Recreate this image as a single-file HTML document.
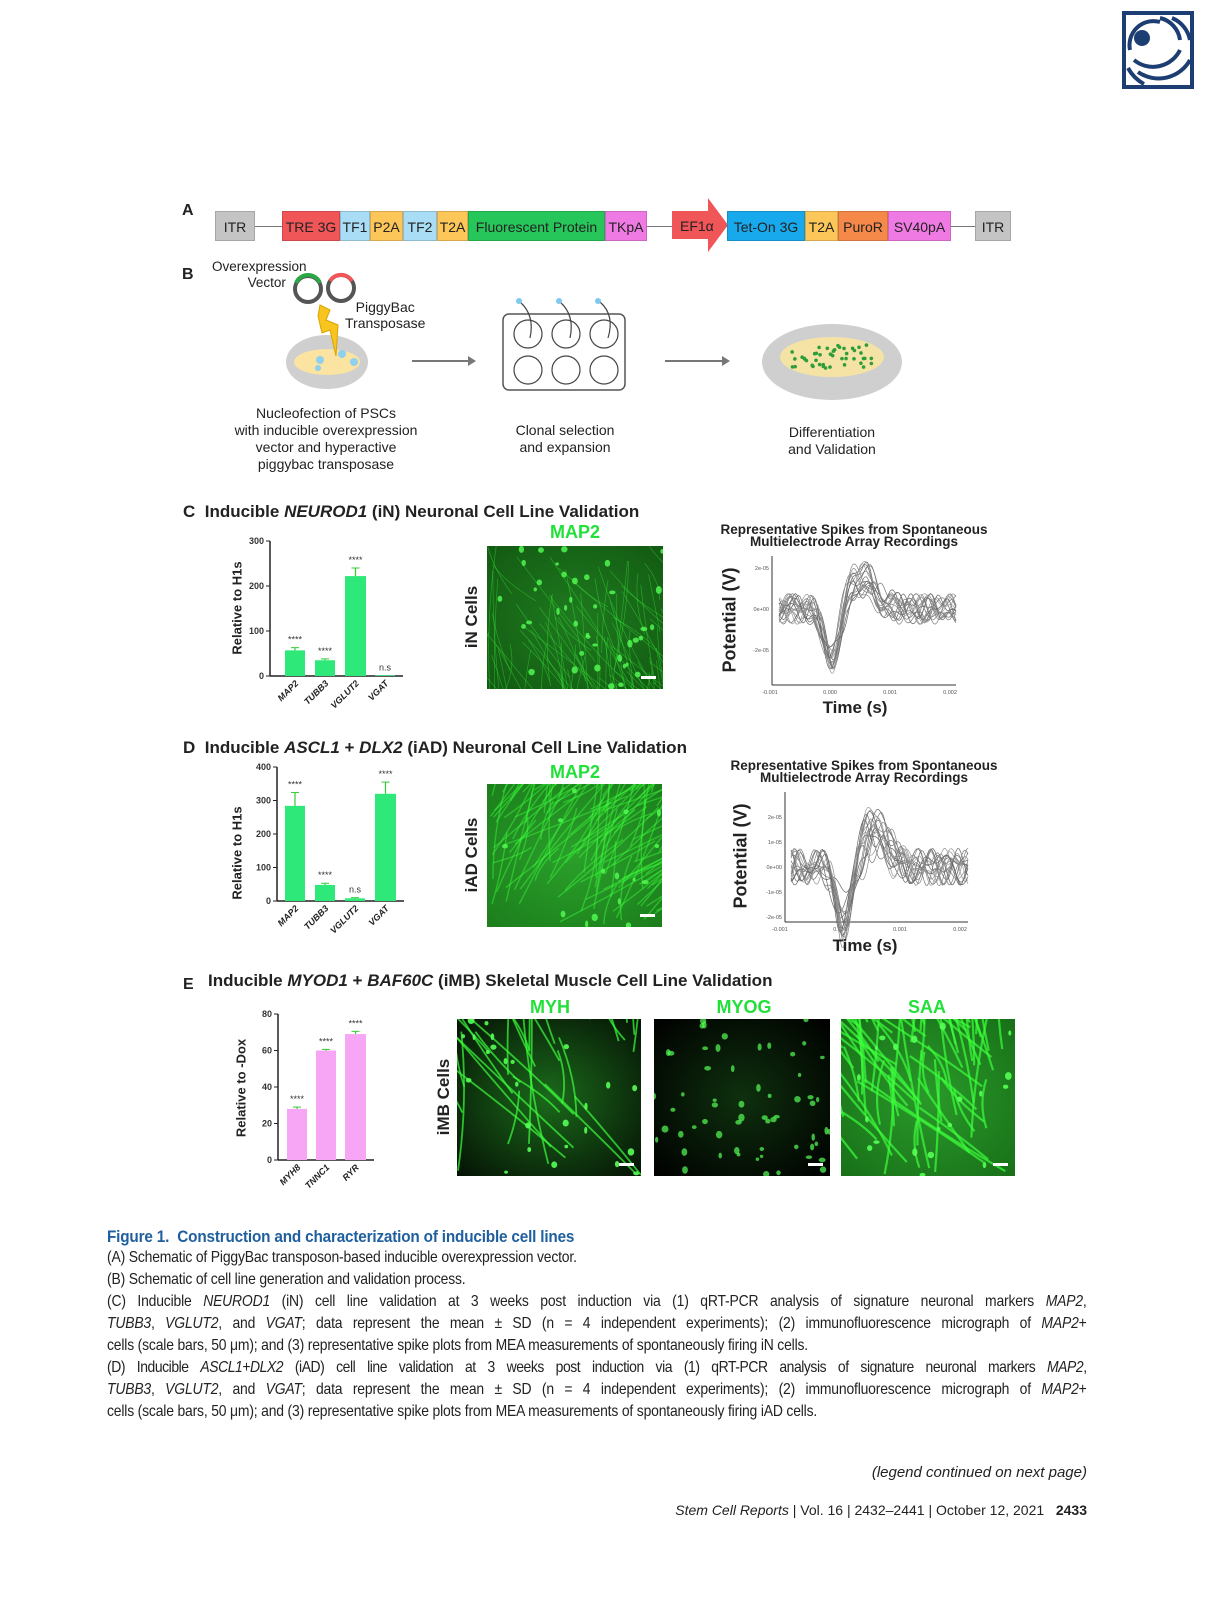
<!DOCTYPE html>
<html><head><meta charset="utf-8">
<style>
body{margin:0;background:#fff;}
#pg{position:relative;width:1232px;height:1600px;overflow:hidden;font-family:"Liberation Sans",sans-serif;color:#222;}
.a{position:absolute;white-space:nowrap;}
.seg{position:absolute;top:211px;height:30px;line-height:30px;font-size:14px;text-align:center;color:#222;border:1px solid rgba(0,0,0,.15);box-sizing:border-box;}
.lbl{font-weight:bold;font-size:17px;}
.cap{position:absolute;left:107px;width:1126px;font-size:16px;letter-spacing:-0.2px;white-space:nowrap;text-align:justify;text-align-last:justify;color:#222;transform:scaleX(0.87);transform-origin:0 0;}
.cap.l{text-align-last:left;}
.gl{position:absolute;color:#22e03a;font-weight:bold;font-size:18px;transform:translateX(-50%);}
.rot{position:absolute;transform:translate(-50%,-50%) rotate(-90deg);font-weight:bold;white-space:nowrap;}
</style></head><body><div id="pg">

<!-- logo -->
<svg class="a" style="left:1120px;top:10px" width="76" height="80" viewBox="0 0 76 80">
<rect x="4" y="3" width="68" height="74" fill="none" stroke="#1d3e73" stroke-width="4"/>
<circle cx="22" cy="28" r="8" fill="#1d3e73"/>
<g fill="none" stroke="#1d3e73" stroke-width="4">
<path d="M10 40 A24 24 0 0 1 40 12"/><path d="M14 50 A30 30 0 0 0 60 40"/>
<path d="M18 62 A36 36 0 0 0 70 50"/><path d="M40 8 A26 26 0 0 1 60 30"/><path d="M52 8 A30 30 0 0 1 70 30"/>
<path d="M24 74 A40 40 0 0 1 8 58"/></g></svg>

<!-- Panel A -->
<div class="a lbl" style="left:182px;top:202px;font-size:16px">A</div>
<div style="position:absolute;left:255px;top:226px;width:720px;height:1px;background:#777"></div>
<div class="seg" style="left:215px;width:40px;background:#c4c4c4">ITR</div>
<div class="seg" style="left:282px;width:58px;background:#f05558">TRE 3G</div>
<div class="seg" style="left:340px;width:30px;background:#a9dcf5">TF1</div>
<div class="seg" style="left:370px;width:33px;background:#fcc659">P2A</div>
<div class="seg" style="left:403px;width:34px;background:#a9dcf5">TF2</div>
<div class="seg" style="left:437px;width:31px;background:#fcc659">T2A</div>
<div class="seg" style="left:468px;width:137px;background:#27c65a">Fluorescent Protein</div>
<div class="seg" style="left:605px;width:42px;background:#f07ae3">TKpA</div>
<svg class="a" style="left:670px;top:196px" width="60" height="58"><polygon points="2,15 38,15 38,2 58,29 38,56 38,43 2,43" fill="#f05558"/></svg>
<div class="a" style="left:680px;top:218px;font-size:14px">EF1α</div>
<div class="seg" style="left:727px;width:78px;background:#18a8ec">Tet-On 3G</div>
<div class="seg" style="left:805px;width:33px;background:#fcc659">T2A</div>
<div class="seg" style="left:838px;width:50px;background:#f5894a">PuroR</div>
<div class="seg" style="left:888px;width:63px;background:#f07ae3">SV40pA</div>
<div class="seg" style="left:975px;width:36px;background:#c4c4c4">ITR</div>

<!-- Panel B -->
<div class="a lbl" style="left:182px;top:266px;font-size:16px">B</div>
<div class="a" style="left:212px;top:259px;font-size:13.5px;text-align:center;line-height:16px">Overexpression<br>&nbsp;&nbsp;&nbsp;&nbsp;Vector</div>
<div class="a" style="left:345px;top:299px;font-size:14px;text-align:center;line-height:16px">PiggyBac<br>Transposase</div>
<svg class="a" style="left:0;top:0" width="1232" height="480">
<circle cx="308" cy="289" r="13" fill="none" stroke="#555" stroke-width="4"/>
<path d="M296 283 A13 13 0 0 1 320 283" fill="none" stroke="#2aa846" stroke-width="4"/>
<circle cx="341" cy="288" r="13" fill="none" stroke="#555" stroke-width="4"/>
<path d="M330 281 A13 13 0 0 1 352 281" fill="none" stroke="#f05558" stroke-width="4"/>
<ellipse cx="327" cy="362" rx="41" ry="27" fill="#cfcfcf"/>
<ellipse cx="327" cy="362" rx="33" ry="13" fill="#fbe3a2"/>
<polygon points="320,305 330,310 326,320 338,325 336,356 330,330 322,333 318,316" fill="#f8c420" stroke="#d9a400"/>
<circle cx="320" cy="360" r="4" fill="#8fd0ef"/><circle cx="342" cy="354" r="4" fill="#8fd0ef"/><circle cx="354" cy="362" r="4" fill="#8fd0ef"/><circle cx="318" cy="368" r="3" fill="#8fd0ef"/>
<line x1="412" y1="361" x2="470" y2="361" stroke="#777" stroke-width="2"/><polygon points="476,361 468,356 468,366" fill="#777"/>
<rect x="503" y="314" width="122" height="76" rx="6" fill="none" stroke="#555" stroke-width="1.5"/>
<g fill="none" stroke="#444" stroke-width="1.2">
<circle cx="528" cy="334" r="14"/><circle cx="566" cy="334" r="14"/><circle cx="604" cy="334" r="14"/>
<circle cx="528" cy="370" r="14"/><circle cx="566" cy="370" r="14"/><circle cx="604" cy="370" r="14"/>
<path d="M520 302 Q535 315 530 338"/><path d="M560 302 Q575 315 570 338"/><path d="M600 302 Q615 315 608 338"/></g>
<circle cx="519" cy="301" r="3" fill="#7fc8ef"/><circle cx="559" cy="301" r="3" fill="#7fc8ef"/><circle cx="598" cy="301" r="3" fill="#7fc8ef"/>
<line x1="665" y1="361" x2="724" y2="361" stroke="#777" stroke-width="2"/><polygon points="730,361 722,356 722,366" fill="#777"/>
<ellipse cx="832" cy="362" rx="70" ry="38" fill="#cfcfcf"/>
<ellipse cx="832" cy="357" rx="52" ry="20" fill="#f5e3a5"/>
<g fill="#2f9e3a" id="cellsB"></g>
</svg>
<div class="a" style="left:326px;top:405px;transform:translateX(-50%);font-size:14px;text-align:center;line-height:17px">Nucleofection of PSCs<br>with inducible overexpression<br>vector and hyperactive<br>piggybac transposase</div>
<div class="a" style="left:565px;top:422px;transform:translateX(-50%);font-size:14px;text-align:center;line-height:17px">Clonal selection<br>and expansion</div>
<div class="a" style="left:832px;top:424px;transform:translateX(-50%);font-size:14px;text-align:center;line-height:17px">Differentiation<br>and Validation</div>

<!-- Panel C -->
<div class="a lbl" style="left:183px;top:502px">C&nbsp;&nbsp;Inducible <i>NEUROD1</i> (iN) Neuronal Cell Line Validation</div>
<!-- Panel D -->
<div class="a lbl" style="left:183px;top:738px">D&nbsp;&nbsp;Inducible <i>ASCL1</i> + <i>DLX2</i> (iAD) Neuronal Cell Line Validation</div>
<!-- Panel E -->
<div class="a lbl" style="left:183px;top:976px;font-size:16px">E</div>
<div class="a lbl" style="left:208px;top:971px">Inducible <i>MYOD1</i> + <i>BAF60C</i> (iMB) Skeletal Muscle Cell Line Validation</div>

<svg id="charts" class="a" style="left:0;top:0" width="1232" height="1200" font-family="Liberation Sans, sans-serif"></svg>

<div class="rot" style="left:237px;top:608px;font-size:13px">Relative to H1s</div>
<div class="rot" style="left:237px;top:853px;font-size:13px">Relative to H1s</div>
<div class="rot" style="left:241px;top:1088px;font-size:13px">Relative to -Dox</div>
<div class="rot" style="left:472px;top:617px;font-size:17px">iN Cells</div>
<div class="rot" style="left:472px;top:855px;font-size:17px">iAD Cells</div>
<div class="rot" style="left:444px;top:1097px;font-size:17px">iMB Cells</div>
<div class="rot" style="left:730px;top:620px;font-size:18px">Potential (V)</div>
<div class="rot" style="left:741px;top:856px;font-size:18px">Potential (V)</div>
<div class="gl" style="left:575px;top:522px">MAP2</div>
<div class="gl" style="left:575px;top:762px">MAP2</div>
<div class="gl" style="left:550px;top:997px">MYH</div>
<div class="gl" style="left:744px;top:997px">MYOG</div>
<div class="gl" style="left:927px;top:997px">SAA</div>
<div class="a" style="left:854px;top:524px;transform:translateX(-50%);font-weight:bold;font-size:13.5px;text-align:center;line-height:12px">Representative Spikes from Spontaneous<br>Multielectrode Array Recordings</div>
<div class="a" style="left:864px;top:760px;transform:translateX(-50%);font-weight:bold;font-size:13.5px;text-align:center;line-height:12px">Representative Spikes from Spontaneous<br>Multielectrode Array Recordings</div>
<div class="a" style="left:855px;top:698px;transform:translateX(-50%);font-weight:bold;font-size:17px">Time (s)</div>
<div class="a" style="left:865px;top:936px;transform:translateX(-50%);font-weight:bold;font-size:17px">Time (s)</div>

<!-- caption -->
<div class="a" style="left:107px;top:1227px;font-size:17px;font-weight:bold;color:#1f5f9e;letter-spacing:-0.2px;transform:scaleX(0.9);transform-origin:0 0">Figure 1.&nbsp; Construction and characterization of inducible cell lines</div>
<div class="cap l" style="top:1249px">(A) Schematic of PiggyBac transposon-based inducible overexpression vector.</div>
<div class="cap l" style="top:1271px">(B) Schematic of cell line generation and validation process.</div>
<div class="cap" style="top:1293px">(C) Inducible <i>NEUROD1</i> (iN) cell line validation at 3 weeks post induction via (1) qRT-PCR analysis of signature neuronal markers <i>MAP2</i>,</div>
<div class="cap" style="top:1315px"><i>TUBB3</i>, <i>VGLUT2</i>, and <i>VGAT</i>; data represent the mean ± SD (n = 4 independent experiments); (2) immunofluorescence micrograph of <i>MAP2</i>+</div>
<div class="cap l" style="top:1337px">cells (scale bars, 50 μm); and (3) representative spike plots from MEA measurements of spontaneously firing iN cells.</div>
<div class="cap" style="top:1359px;letter-spacing:-0.5px">(D) Inducible <i>ASCL1+DLX2</i> (iAD) cell line validation at 3 weeks post induction via (1) qRT-PCR analysis of signature neuronal markers <i>MAP2</i>,</div>
<div class="cap" style="top:1381px"><i>TUBB3</i>, <i>VGLUT2</i>, and <i>VGAT</i>; data represent the mean ± SD (n = 4 independent experiments); (2) immunofluorescence micrograph of <i>MAP2</i>+</div>
<div class="cap l" style="top:1403px">cells (scale bars, 50 μm); and (3) representative spike plots from MEA measurements of spontaneously firing iAD cells.</div>
<div class="a" style="right:145px;top:1464px;font-size:15px;font-style:italic">(legend continued on next page)</div>
<div class="a" style="right:145px;top:1502px;font-size:14px"><i>Stem Cell Reports</i> | Vol. 16 | 2432–2441 | October 12, 2021&nbsp;&nbsp; <b>2433</b></div>

<script>
var S=document.getElementById('charts'),h='';
var seed=7;function r(){seed=(seed*16807)%2147483647;return seed/2147483647;}
function bar(ax,y0,y1,vmax,ticks,bars,color,labels,stars){
 h+='<line x1="'+ax+'" y1="'+y1+'" x2="'+ax+'" y2="'+y0+'" stroke="#222" stroke-width="1.5"/>';
 var xe=bars[bars.length-1][0]+bars[bars.length-1][1]+8;
 h+='<line x1="'+ax+'" y1="'+y0+'" x2="'+xe+'" y2="'+y0+'" stroke="#222" stroke-width="1.5"/>';
 ticks.forEach(function(t){var y=y0-(y0-y1)*t/vmax;h+='<line x1="'+(ax-4)+'" y1="'+y+'" x2="'+ax+'" y2="'+y+'" stroke="#222"/><text x="'+(ax-6)+'" y="'+(y+3)+'" font-size="9" font-weight="bold" text-anchor="end" fill="#333">'+t+'</text>';});
 bars.forEach(function(b,i){var v=b[2],y=y0-(y0-y1)*v/vmax,e=(y0-y1)*b[3]/vmax;
  h+='<rect x="'+b[0]+'" y="'+y+'" width="'+b[1]+'" height="'+(y0-y)+'" fill="'+color+'"/>';
  if(b[3]>0)h+='<line x1="'+(b[0]+b[1]/2)+'" y1="'+(y-e)+'" x2="'+(b[0]+b[1]/2)+'" y2="'+y+'" stroke="#3c3" stroke-width="1.2"/><line x1="'+(b[0]+b[1]/2-4)+'" y1="'+(y-e)+'" x2="'+(b[0]+b[1]/2+4)+'" y2="'+(y-e)+'" stroke="#3c3" stroke-width="1"/>';
  var cx=b[0]+b[1]/2;
  h+='<text x="'+cx+'" y="'+(y-e-5)+'" font-size="9" text-anchor="middle" fill="#333">'+stars[i]+'</text>';
  h+='<text transform="translate('+(cx+4)+','+(y0+8)+') rotate(-45)" font-size="9" font-weight="bold" font-style="italic" text-anchor="end" fill="#222">'+labels[i]+'</text>';
 });
}
bar(270,676,541,300,[0,100,200,300],[[285,20,57,6],[315,20,35,3],[345,21,222,18],[375,20,1.5,0]],'#2ee87a',['MAP2','TUBB3','VGLUT2','VGAT'],['****','****','****','n.s']);
bar(277,901,767,400,[0,100,200,300,400],[[285,20,284,40],[315,20,48,5],[345,20,8,2],[375,21,320,35]],'#2ee87a',['MAP2','TUBB3','VGLUT2','VGAT'],['****','****','n.s','****']);
bar(278,1160,1014,80,[0,20,40,60,80],[[287,20,28,1],[316,20,60,.6],[345,21,69,1.5]],'#f7a6f5',['MYH8','TNNC1','RYR'],['****','****','****']);
function micro(x,y,w,hh,bg,mode,id){
 h+='<defs><clipPath id="c'+id+'"><rect x="'+x+'" y="'+y+'" width="'+w+'" height="'+hh+'"/></clipPath><radialGradient id="g'+id+'" cx="50%" cy="50%" r="70%"><stop offset="0" stop-color="'+bg[0]+'"/><stop offset="1" stop-color="'+bg[1]+'"/></radialGradient></defs>';
 h+='<g clip-path="url(#c'+id+')"><rect x="'+x+'" y="'+y+'" width="'+w+'" height="'+hh+'" fill="url(#g'+id+')"/>';
 var n=mode[0],op=mode[1],sw=mode[2],dots=mode[3],ang=mode[4];
 for(var i=0;i<n;i++){var x1=x+r()*w,y1=y+r()*hh,a=ang+(r()-.5)*1.2,L=40+r()*140;
  h+='<path d="M'+x1+' '+y1+' q'+(Math.cos(a)*L/2+(r()-.5)*20)+' '+(Math.sin(a)*L/2)+' '+(Math.cos(a)*L)+' '+(Math.sin(a)*L)+'" stroke="#3cff3c" stroke-opacity="'+op+'" stroke-width="'+sw+'" fill="none"/>';}
 for(i=0;i<dots;i++)h+='<ellipse cx="'+(x+r()*w)+'" cy="'+(y+r()*hh)+'" rx="'+(1.5+r()*2)+'" ry="'+(1.5+r()*2.5)+'" fill="#5f5" fill-opacity="'+mode[5]+'"/>';
 h+='<rect x="'+(x+w-22)+'" y="'+(y+hh-13)+'" width="15" height="3" fill="#fff"/></g>';
}
micro(487,546,176,143,['#1e7a1e','#135a13'],[90,.4,.7,40,1.2,.8],1);
micro(487,784,175,143,['#2aa02a','#1c7e1c'],[110,.45,1.4,15,-.9,.8],2);
micro(457,1019,184,157,['#1b6a1b','#051205'],[30,.7,1.8,25,-1.9,.9],3);
micro(654,1019,176,157,['#0e300e','#000'],[0,.8,2,60,-1,.7],4);
micro(841,1019,174,157,['#2a9a2a','#187018'],[70,.7,2.2,20,-2.0,.9],5);
function spikes(ax,bot,xm1,x0,x1,y0,ypu,ybot,yt,depth){
 h+='<line x1="'+ax+'" y1="'+ybot+'" x2="'+ax+'" y2="'+bot+'" stroke="#333"/><line x1="'+ax+'" y1="'+bot+'" x2="'+(x0+(x1-x0)*2.1)+'" y2="'+bot+'" stroke="#333"/>';
 ['-0.001','0.000','0.001','0.002'].forEach(function(t,i){h+='<text x="'+(xm1+(x1-x0)*i)+'" y="'+(bot+9)+'" font-size="5.5" fill="#555" text-anchor="middle">'+t+'</text>';});
 yt.forEach(function(v){h+='<text x="'+(ax-3)+'" y="'+(y0-v*ypu+2)+'" font-size="5.5" fill="#555" text-anchor="end">'+(v==0?'0e+00':(v>0?'':'-')+Math.abs(v)+'e-05')+'</text>';});
 for(var k=0;k<18;k++){var A=depth+r()*0.9, B=0.9+r()*1.2, pk=.4+r()*.3, ph=r()*6, ph2=r()*6, f1=6+r()*6, f2=14+r()*8, d='';
  for(var t=-0.85;t<=2.1;t+=0.025){var v=.45*Math.sin(t*f1+ph)+.3*Math.sin(t*f2+ph2)-A*Math.exp(-Math.pow((t-0.02)/0.17,2))+B*Math.exp(-Math.pow((t-pk)/0.28,2));
   var px=x0+(x1-x0)*t,py=y0-v*ypu;d+=(d?'L':'M')+px.toFixed(1)+' '+py.toFixed(1);}
  h+='<path d="'+d+'" fill="none" stroke="#'+(['666','888','999','777'][k%4])+'" stroke-width=".7"/>';}
}
spikes(772,685,770,830,890,609,20.5,556,[2,0,-2],2.2);
spikes(785,922,780,842,902,867,25,792,[2,1,0,-1,-2],1.7);
S.innerHTML=h;
var c='';for(var i=0;i<45;i++){c+='<circle cx="'+(792+r()*80)+'" cy="'+(345+r()*24)+'" r="1.8"/>';}
document.getElementById('cellsB').innerHTML=c;
</script>
</div></body></html>
